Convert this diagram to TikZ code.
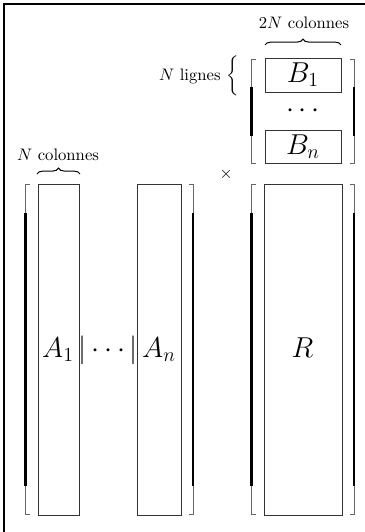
\documentclass[tikz,border=0pt]{standalone}
\usetikzlibrary{decorations.pathreplacing}
\begin{document}
\begin{tikzpicture}[x=0.6pt,y=-0.6pt,
  boxline/.style={draw=black!80,line width=0.5pt},
  thinbr/.style={draw=black!60,line width=0.5pt},
  thickbr/.style={draw=black,line width=1.3pt},
  cbrace/.style={decorate,decoration={brace,amplitude=3.5pt},line width=0.6pt},
  big/.style={font=\LARGE,inner sep=0pt},
  lab/.style={inner sep=0pt}]
\useasboundingbox (0,0) rectangle (365,532);
% frame
\draw[line width=1.2pt] (4,532) -- (4,4) -- (365,4);
% ---- brackets: #1 x of bar, #2 x of hook end, #3 top, #4 thick top, #5 thick bottom, #6 bottom
\newcommand\mybrk[6]{%
  \draw[thinbr] (#2,#3) -- (#1,#3) -- (#1,#4);
  \draw[thickbr] (#1,#4) -- (#1,#5);
  \draw[thinbr] (#1,#5) -- (#1,#6) -- (#2,#6);}
% B matrix
\mybrk{251.5}{256}{59}{87}{136}{163}
\mybrk{354}{349.5}{59}{87}{136}{163}
\draw[boxline] (265,58) rectangle (341,92);
\draw[boxline] (265,130) rectangle (341,163);
\node[big] (B1) at (303,75) {$B_1$};
\node[big] (Bdots) at (303,111) {$\cdots$};
\node[big] (Bn) at (303,147) {$B_n$};
% top labels
\node[lab] (cols2) at (304,23) {$2N$ colonnes};
\draw[cbrace] (265,45) -- (341,45);
\node[lab,anchor=east] (lignes) at (239,76) {$N$ lignes $\bigg\{$};
% A matrix
\mybrk{25.5}{30}{184}{213}{486}{514}
\mybrk{193}{188.5}{184}{213}{486}{514}
\draw[boxline] (38,184) rectangle (79,515);
\draw[boxline] (137.5,184) rectangle (181,515);
\node[big,anchor=base] (A1) at (58,357) {$A_1$};
\node[big,anchor=base] (bar1) at (82.5,357) {$|$};
\node[big,anchor=base] (Adots) at (108.5,357) {$\cdots$};
\node[big,anchor=base] (bar2) at (133.5,357) {$|$};
\node[big,anchor=base] (An) at (159,357) {$A_n$};
\node[lab] (cols1) at (58,155) {$N$ colonnes};
\draw[cbrace] (37,174) -- (80,174);
% times
\node[lab] (times) at (226,174) {$\times$};
% R matrix
\mybrk{251.5}{256}{184}{213}{486}{514}
\mybrk{354}{349.5}{184}{213}{486}{514}
\draw[boxline] (264,184) rectangle (342,515);
\node[big,anchor=base] (R) at (302.5,357) {$R$};
\end{tikzpicture}
\end{document}
